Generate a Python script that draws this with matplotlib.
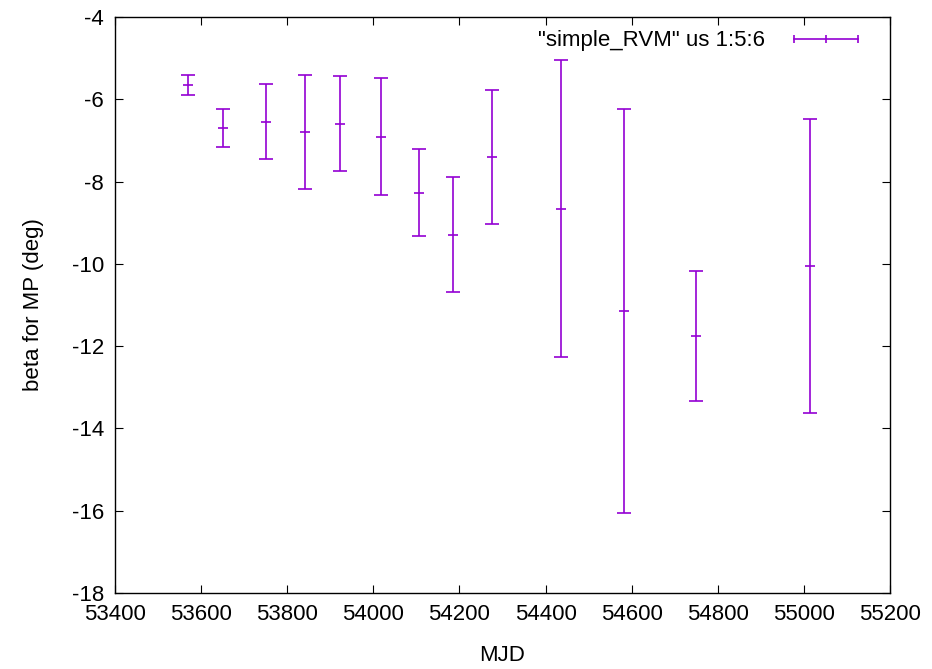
import matplotlib
matplotlib.use('Agg')
import matplotlib.pyplot as plt
from matplotlib.lines import Line2D

# values
mjd = [53570, 53651, 53751, 53841, 53922, 54018, 54106, 54186, 54276,
       54437, 54583, 54750, 55014]
beta = [-5.65, -6.70, -6.55, -6.80, -6.59, -6.91, -8.27, -9.29, -7.40,
        -8.66, -11.15, -11.75, -10.06]
beta_err = [0.25, 0.47, 0.91, 1.38, 1.16, 1.42, 1.05, 1.40, 1.63,
            3.61, 4.91, 1.575, 3.57]

xticks = list(range(53400, 55201, 200))
yticks = list(range(-18, -3, 2))

color = '#9400D3'
plt.rcParams['font.family'] = ['Liberation Sans', 'DejaVu Sans']
plt.rcParams['axes.unicode_minus'] = False

fig = plt.figure(figsize=(9.32, 6.69), dpi=100)
ax = fig.add_axes([115/932, 1 - 593/669, 775/932, 576/669])

ax.errorbar(mjd, beta, yerr=beta_err, fmt='_', color=color, ecolor=color,
            elinewidth=1.2, capsize=5, capthick=1.2, markersize=6.5,
            markeredgewidth=1.2)

ax.set_xlim(53400, 55200)
ax.set_ylim(-18, -4)
ax.set_xticks(xticks)
ax.set_yticks(yticks)
ax.tick_params(direction='in', top=True, right=True, length=6, width=0.8,
               labelsize=16, pad=8)
for s in ax.spines.values():
    s.set_linewidth(1.0)
ax.set_xlabel('MJD', fontsize=16, labelpad=14)
ax.set_ylabel('beta for MP (deg)', fontsize=16, labelpad=20)

handle = Line2D([], [], color=color, lw=1.2, marker='|', markersize=6,
                markeredgewidth=1.2)
ax.legend([handle], ['"simple_RVM" us 1:5:6'], loc='upper right',
          frameon=False, numpoints=3, markerfirst=False, handlelength=3.5,
          handletextpad=1.0, fontsize=16, borderaxespad=0.2,
          bbox_to_anchor=(0.985, 1.0))

fig.savefig('out.png', dpi=100)
